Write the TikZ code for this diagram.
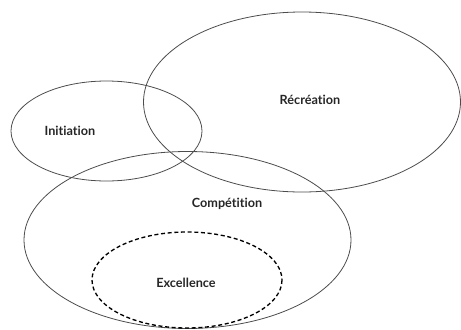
\documentclass[tikz,border=0pt]{standalone}
\usepackage{fontspec}
\setmainfont{Lato}[Ligatures={NoCommon,NoRare}]
\tikzset{zone/.style={draw=black!70,line width=0.6pt},
  elite/.style={draw=black,line width=1pt,dash pattern=on 3pt off 2pt},
  lbl/.style={font=\fontsize{9.5}{10}\selectfont\bfseries,text=black!85}}

\begin{document}
\begin{tikzpicture}[x=0.75pt,y=-0.75pt]
  \useasboundingbox (0,0) rectangle (461,329);
  \draw[zone] (106.5,131) ellipse [x radius=95.5, y radius=50];
  \draw[zone] (302,102) ellipse [x radius=158.5, y radius=90];
  \draw[zone] (187.5,240) ellipse [x radius=163.5, y radius=88.5];
  \draw[elite] (187,280) ellipse [x radius=95, y radius=48];
  \node[lbl] (init) at (70,131) {Initiation};
  \node[lbl] (recr) at (310,100) {Récréation};
  \node[lbl] (comp) at (227,204) {Compétition};
  \node[lbl] (exce) at (186,283) {Excellence};
\end{tikzpicture}
\end{document}
